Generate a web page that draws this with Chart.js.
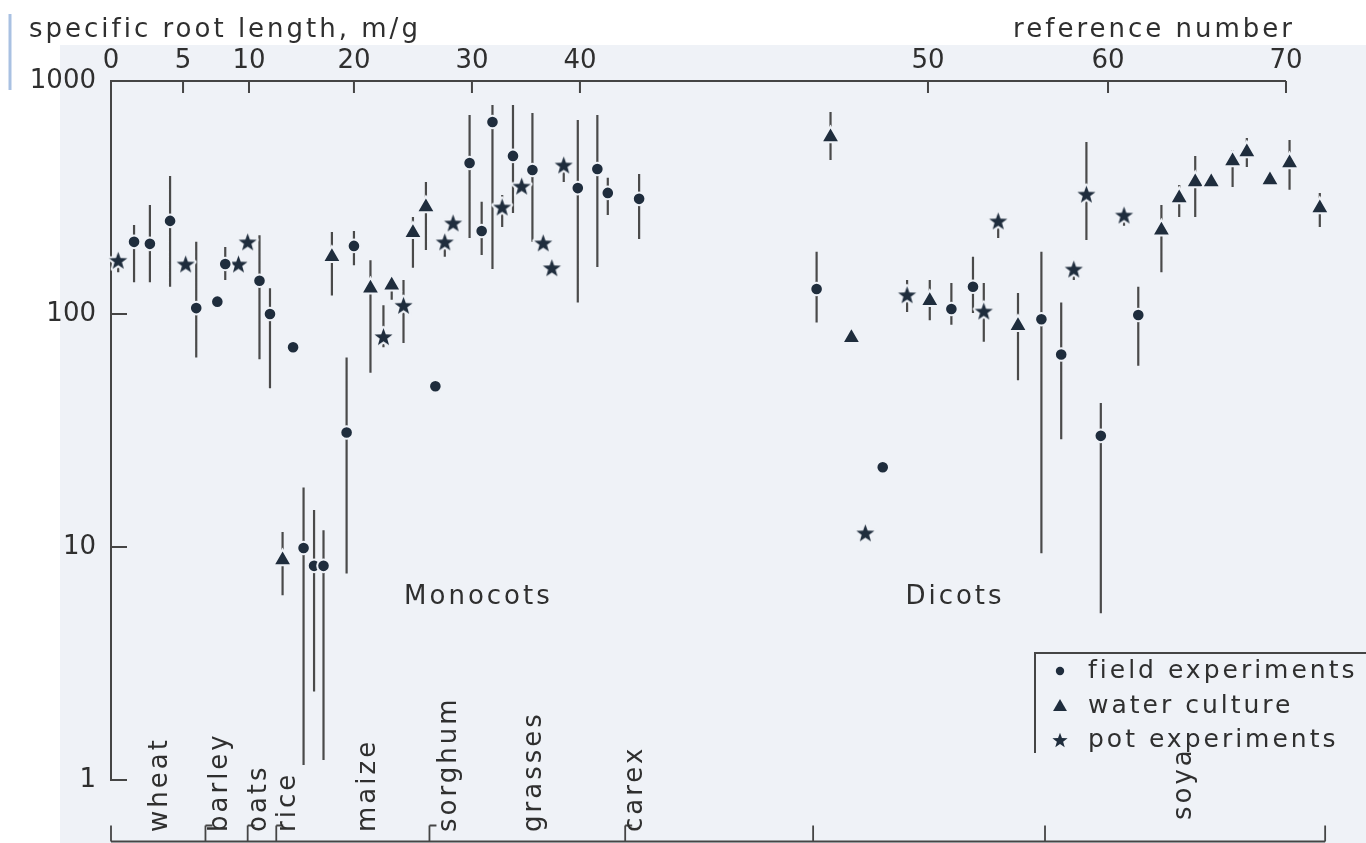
<!DOCTYPE html>
<html>
<head>
<meta charset="utf-8">
<script src="https://cdn.jsdelivr.net/npm/chart.js@4.4.1/dist/chart.umd.min.js"></script>
<style>
  html, body { margin: 0; padding: 0; background: #ffffff; }
  canvas { display: block; }
</style>
</head>
<body>
<canvas id="c" width="1366" height="843"></canvas>
<script>
// ---------------- DATA ----------------
const xTickRefs = [0, 5, 10, 20, 30, 40, 50, 60, 70];
const yTickValues = [1, 10, 100, 1000];

// field experiments (circles)
const fieldRef  = [1.6, 2.7, 4.1, 6.0, 7.6, 8.2, 11.0, 12.0, 14.2, 15.2, 16.2, 17.1, 19.3, 20.0, 26.9, 29.8, 30.9, 31.9, 33.8, 35.6, 39.8, 40.5, 40.8, 41.7, 46.8, 48.7, 51.3, 52.5, 56.3, 57.4, 59.6, 61.7];
const fieldSRL  = [204, 200, 251, 106, 113, 164, 139, 100, 72, 9.9, 8.3, 8.3, 31, 196, 49, 445, 227, 667, 477, 415, 347, 419, 331, 312, 128, 22, 105, 131, 95, 67, 30, 99];
const fieldLow  = [137, 137, 131, 65, null, 140, 64, 48, null, 1.16, 2.4, 1.22, 7.7, 162, null, 212, 179, 156, 271, 204, 112, 159, 266, 210, 92, null, 90, 101, 9.4, 29, 5.2, 60];
const fieldHigh = [241, 294, 391, 204, null, 194, 218, 129, null, 18, 14.4, 11.8, 65, 227, null, 715, 303, 789, 789, 729, 680, 715, 384, 399, 185, null, 136, 176, 185, 112, 41.5, 131];

// water culture (triangles)
const waterRef  = [13.2, 17.9, 21.4, 23.2, 25.0, 26.1, 47.2, 47.8, 50.1, 55.0, 63.0, 64.0, 64.9, 65.8, 67.0, 67.8, 69.1, 70.2, 71.9];
const waterSRL  = [8.8, 176, 129, 133, 223, 288, 575, 79, 114, 89, 229, 315, 369, 369, 454, 496, 376, 445, 285];
const waterLow  = [6.2, 120, 56, 115, 158, 188, 458, null, 94, 52, 151, 261, 261, null, 351, 427, null, 341, 236];
const waterHigh = [11.6, 225, 170, 143, 261, 369, 736, null, 140, 123, 294, 358, 477, null, 506, 569, null, 558, 331];

// pot experiments (stars)
const potRef  = [0.5, 5.2, 9.2, 9.9, 22.5, 24.2, 27.7, 28.4, 32.8, 34.6, 36.6, 37.4, 38.5, 48.2, 49.4, 53.1, 53.9, 58.1, 58.8, 60.9];
const potSRL  = [170, 164, 164, 204, 80, 109, 204, 246, 288, 354, 202, 158, 436, 11.5, 121, 103, 251, 156, 327, 266];
const potLow  = [151, null, null, null, 72, 75, 176, null, 236, null, null, null, 369, null, 102, 76, 212, 140, 208, 239];
const potHigh = [183, null, null, null, 109, 140, 216, null, 324, null, null, null, 458, null, 140, 136, 266, 167, 547, 285];

// crop groups along the reference-number axis
const speciesNames = ['wheat', 'barley', 'oats', 'rice', 'maize', 'sorghum', 'grasses', 'carex', 'soya'];
const speciesRef   = [3.4, 7.8, 11.0, 13.7, 21.2, 28.1, 35.8, 41.6, 64.3];
const groupBounds  = [0, 6.7, 9.9, 12.6, 26.4, 41.3, 46.7, 56.5, 72.2];
const bracketBounds = [6.7, 9.9, 12.6, 26.4, 41.3];
const divisionNames = ['Monocots', 'Dicots'];
const divisionRef   = [30.6, 51.5];
const legendLabels  = ['field experiments', 'water culture', 'pot experiments'];

// ---------------- STYLE ----------------
const BG = '#eff2f7';
const INK = '#1f2d3d';
const LINE = '#454545';
const TEXT = '#2f2f2f';
const FONT = '"DejaVu Sans", sans-serif';

// printed (non-uniform) spacing of the reference-number axis, as fractions of the plot width
const AXIS_FRACTIONS = [0, 0.0591, 0.1132, 0.1993, 0.2961, 0.3847, 0.6702, 0.8179, 0.9639];

class RefScale extends Chart.LinearScale {
  static id = 'refscale';
  static defaults = {};
  _dec(v) {
    const r = xTickRefs, f = AXIS_FRACTIONS;
    let i = 0;
    if (v >= r[r.length - 1]) i = r.length - 2;
    else if (v > r[0]) { while (v > r[i + 1]) i++; }
    return f[i] + (v - r[i]) / (r[i + 1] - r[i]) * (f[i + 1] - f[i]);
  }
  getPixelForValue(v) {
    if (v === null || v === undefined || isNaN(v)) return NaN;
    return this.getPixelForDecimal(this._dec(v));
  }
  getValueForPixel(p) {
    const d = this.getDecimalForPixel(p);
    const r = xTickRefs, f = AXIS_FRACTIONS;
    let i = 0;
    if (d >= f[f.length - 1]) i = f.length - 2;
    else if (d > f[0]) { while (d > f[i + 1]) i++; }
    return r[i] + (d - f[i]) / (f[i + 1] - f[i]) * (r[i + 1] - r[i]);
  }
}
Chart.register(RefScale);

function starCanvas(outer, inner, halo) {
  const s = Math.ceil((outer + halo) * 2 + 2);
  const c = document.createElement('canvas');
  c.width = s; c.height = s;
  const g = c.getContext('2d');
  g.translate(s / 2, s / 2 + outer * 0.095);
  g.beginPath();
  for (let i = 0; i < 10; i++) {
    const rr = i % 2 ? inner : outer;
    const a = -Math.PI / 2 + i * Math.PI / 5;
    g.lineTo(rr * Math.cos(a), rr * Math.sin(a));
  }
  g.closePath();
  if (halo) { g.lineWidth = halo * 2; g.strokeStyle = BG; g.lineJoin = 'round'; g.stroke(); }
  g.fillStyle = INK; g.fill();
  return c;
}
const starImg = starCanvas(9.5, 3.9, 2);
const starLegendImg = starCanvas(8, 3.3, 0);

const ERR = [
  { low: fieldLow, high: fieldHigh },
  { low: waterLow, high: waterHigh },
  { low: potLow, high: potHigh }
];

const pts = (xs, ys) => xs.map((x, i) => ({ x: x, y: ys[i] }));

const backgroundPlugin = {
  id: 'paper',
  beforeDraw(chart) {
    const ctx = chart.ctx;
    ctx.save();
    ctx.fillStyle = '#ffffff';
    ctx.fillRect(0, 0, chart.width, chart.height);
    ctx.fillStyle = BG;
    ctx.fillRect(60, 45, chart.width - 60, chart.height - 45);
    ctx.strokeStyle = '#a9c1e2';
    ctx.lineWidth = 3;
    ctx.beginPath(); ctx.moveTo(10, 14); ctx.lineTo(10, 90); ctx.stroke();
    ctx.restore();
  }
};

const errorBarPlugin = {
  id: 'errorBars',
  beforeDatasetsDraw(chart) {
    const ctx = chart.ctx, xs = chart.scales.x, ys = chart.scales.y;
    ctx.save();
    ctx.strokeStyle = '#4a4a4a';
    ctx.lineWidth = 2.2;
    ctx.beginPath();
    chart.data.datasets.forEach((ds, di) => {
      const lo = ERR[di].low, hi = ERR[di].high;
      ds.data.forEach((p, i) => {
        if (lo[i] == null || hi[i] == null) return;
        const x = xs.getPixelForValue(p.x);
        ctx.moveTo(x, ys.getPixelForValue(hi[i]));
        ctx.lineTo(x, ys.getPixelForValue(lo[i]));
      });
    });
    ctx.stroke();
    ctx.restore();
  }
};

const decorPlugin = {
  id: 'decor',
  afterDraw(chart) {
    const ctx = chart.ctx, xs = chart.scales.x, ys = chart.scales.y;
    const area = chart.chartArea;
    ctx.save();
    ctx.strokeStyle = LINE;
    ctx.lineWidth = 2;
    ctx.beginPath();
    // top axis line, from the first to the last printed tick
    ctx.moveTo(xs.getPixelForValue(xTickRefs[0]) - 1, area.top);
    ctx.lineTo(xs.getPixelForValue(xTickRefs[xTickRefs.length - 1]), area.top);
    // inward tick marks
    xTickRefs.forEach(v => {
      if (v === xTickRefs[0]) return;
      const x = xs.getPixelForValue(v);
      ctx.moveTo(x, area.top); ctx.lineTo(x, area.top + 12);
    });
    yTickValues.forEach(v => {
      if (v === yTickValues[yTickValues.length - 1]) return;
      const y = ys.getPixelForValue(v);
      ctx.moveTo(area.left, y); ctx.lineTo(area.left + 16, y);
    });
    ctx.stroke();

    // group separators at the bottom
    const baseY = chart.height - 1.5;
    ctx.lineWidth = 1.8;
    ctx.beginPath();
    ctx.moveTo(xs.getPixelForValue(groupBounds[0]), baseY);
    ctx.lineTo(xs.getPixelForValue(groupBounds[groupBounds.length - 1]), baseY);
    groupBounds.forEach(v => {
      const x = xs.getPixelForValue(v);
      ctx.moveTo(x, baseY); ctx.lineTo(x, baseY - 16);
    });
    bracketBounds.forEach(v => {
      const x = xs.getPixelForValue(v);
      ctx.moveTo(x, baseY - 16); ctx.lineTo(x + 7, baseY - 16);
    });
    ctx.stroke();

    // texts
    ctx.fillStyle = TEXT;
    ctx.letterSpacing = '3px';
    ctx.font = '26px ' + FONT;
    ctx.textBaseline = 'alphabetic';
    ctx.textAlign = 'left';
    ctx.fillText('specific root length, m/g', 29, 37);
    ctx.textAlign = 'right';
    ctx.fillText('reference number', 1295, 37);

    ctx.textAlign = 'center';
    ctx.textBaseline = 'middle';
    divisionNames.forEach((n, i) => {
      ctx.fillText(n, xs.getPixelForValue(divisionRef[i]), ys.getPixelForValue(6.1));
    });

    ctx.textAlign = 'left';
    speciesNames.forEach((n, i) => {
      const x = xs.getPixelForValue(speciesRef[i]);
      const y0 = n === 'soya' ? chart.height - 23 : chart.height - 11;
      ctx.save();
      ctx.translate(x, y0);
      ctx.rotate(-Math.PI / 2);
      ctx.fillText(n, 0, 0);
      ctx.restore();
    });

    // legend
    const lx = 1035, ly = 653;
    ctx.lineWidth = 2;
    ctx.strokeStyle = LINE;
    ctx.beginPath();
    ctx.moveTo(lx, ly + 100); ctx.lineTo(lx, ly); ctx.lineTo(chart.width, ly);
    ctx.stroke();
    const rowsY = [ly + 18, ly + 53, ly + 87];
    ctx.fillStyle = INK;
    Chart.helpers.drawPoint(ctx, { pointStyle: 'circle', radius: 4.2, rotation: 0, borderWidth: 0 }, lx + 25, rowsY[0]);
    Chart.helpers.drawPoint(ctx, { pointStyle: 'triangle', radius: 8, rotation: 0, borderWidth: 0 }, lx + 25, rowsY[1] + 1);
    Chart.helpers.drawPoint(ctx, { pointStyle: starLegendImg, radius: 8, rotation: 0, borderWidth: 0 }, lx + 25, rowsY[2]);
    ctx.fillStyle = TEXT;
    ctx.font = '25px ' + FONT;
    ctx.textBaseline = 'middle';
    legendLabels.forEach((t, i) => ctx.fillText(t, lx + 53, rowsY[i]));
    ctx.restore();
  }
};

new Chart(document.getElementById('c'), {
  type: 'scatter',
  data: {
    datasets: [
      {
        label: legendLabels[0],
        data: pts(fieldRef, fieldSRL),
        pointStyle: 'circle',
        pointRadius: 6.3,
        pointBackgroundColor: INK,
        pointBorderColor: BG,
        pointBorderWidth: 2,
        clip: false
      },
      {
        label: legendLabels[1],
        data: pts(waterRef, waterSRL),
        pointStyle: 'triangle',
        pointRadius: 10.5,
        pointBackgroundColor: INK,
        pointBorderColor: BG,
        pointBorderWidth: 2,
        clip: false
      },
      {
        label: legendLabels[2],
        data: pts(potRef, potSRL),
        pointStyle: starImg,
        pointRadius: 10,
        clip: false
      }
    ]
  },
  options: {
    responsive: false,
    devicePixelRatio: 1,
    animation: false,
    events: [],
    layout: { padding: { left: 0, top: 0, right: 36, bottom: 63 } },
    plugins: {
      legend: { display: false },
      tooltip: { enabled: false }
    },
    scales: {
      x: {
        type: 'refscale',
        position: 'top',
        min: 0,
        max: 72.5,
        afterBuildTicks: s => { s.ticks = xTickRefs.map(v => ({ value: v })); },
        afterFit: s => { s.height = 81; },
        grid: { display: false, drawTicks: false },
        border: { display: false },
        ticks: {
          autoSkip: false,
          maxRotation: 0,
          padding: 4,
          color: TEXT,
          font: { family: FONT, size: 26 },
          callback: v => String(v)
        }
      },
      y: {
        type: 'logarithmic',
        min: 1,
        max: 1000,
        afterBuildTicks: s => { s.ticks = yTickValues.map(v => ({ value: v })); },
        afterFit: s => { s.width = 111; },
        grid: { display: false, drawTicks: false },
        border: { display: true, color: LINE, width: 2 },
        ticks: {
          autoSkip: false,
          padding: 15,
          color: TEXT,
          font: { family: FONT, size: 26 },
          callback: v => String(v)
        }
      }
    }
  },
  plugins: [backgroundPlugin, errorBarPlugin, decorPlugin]
});
</script>
</body>
</html>
